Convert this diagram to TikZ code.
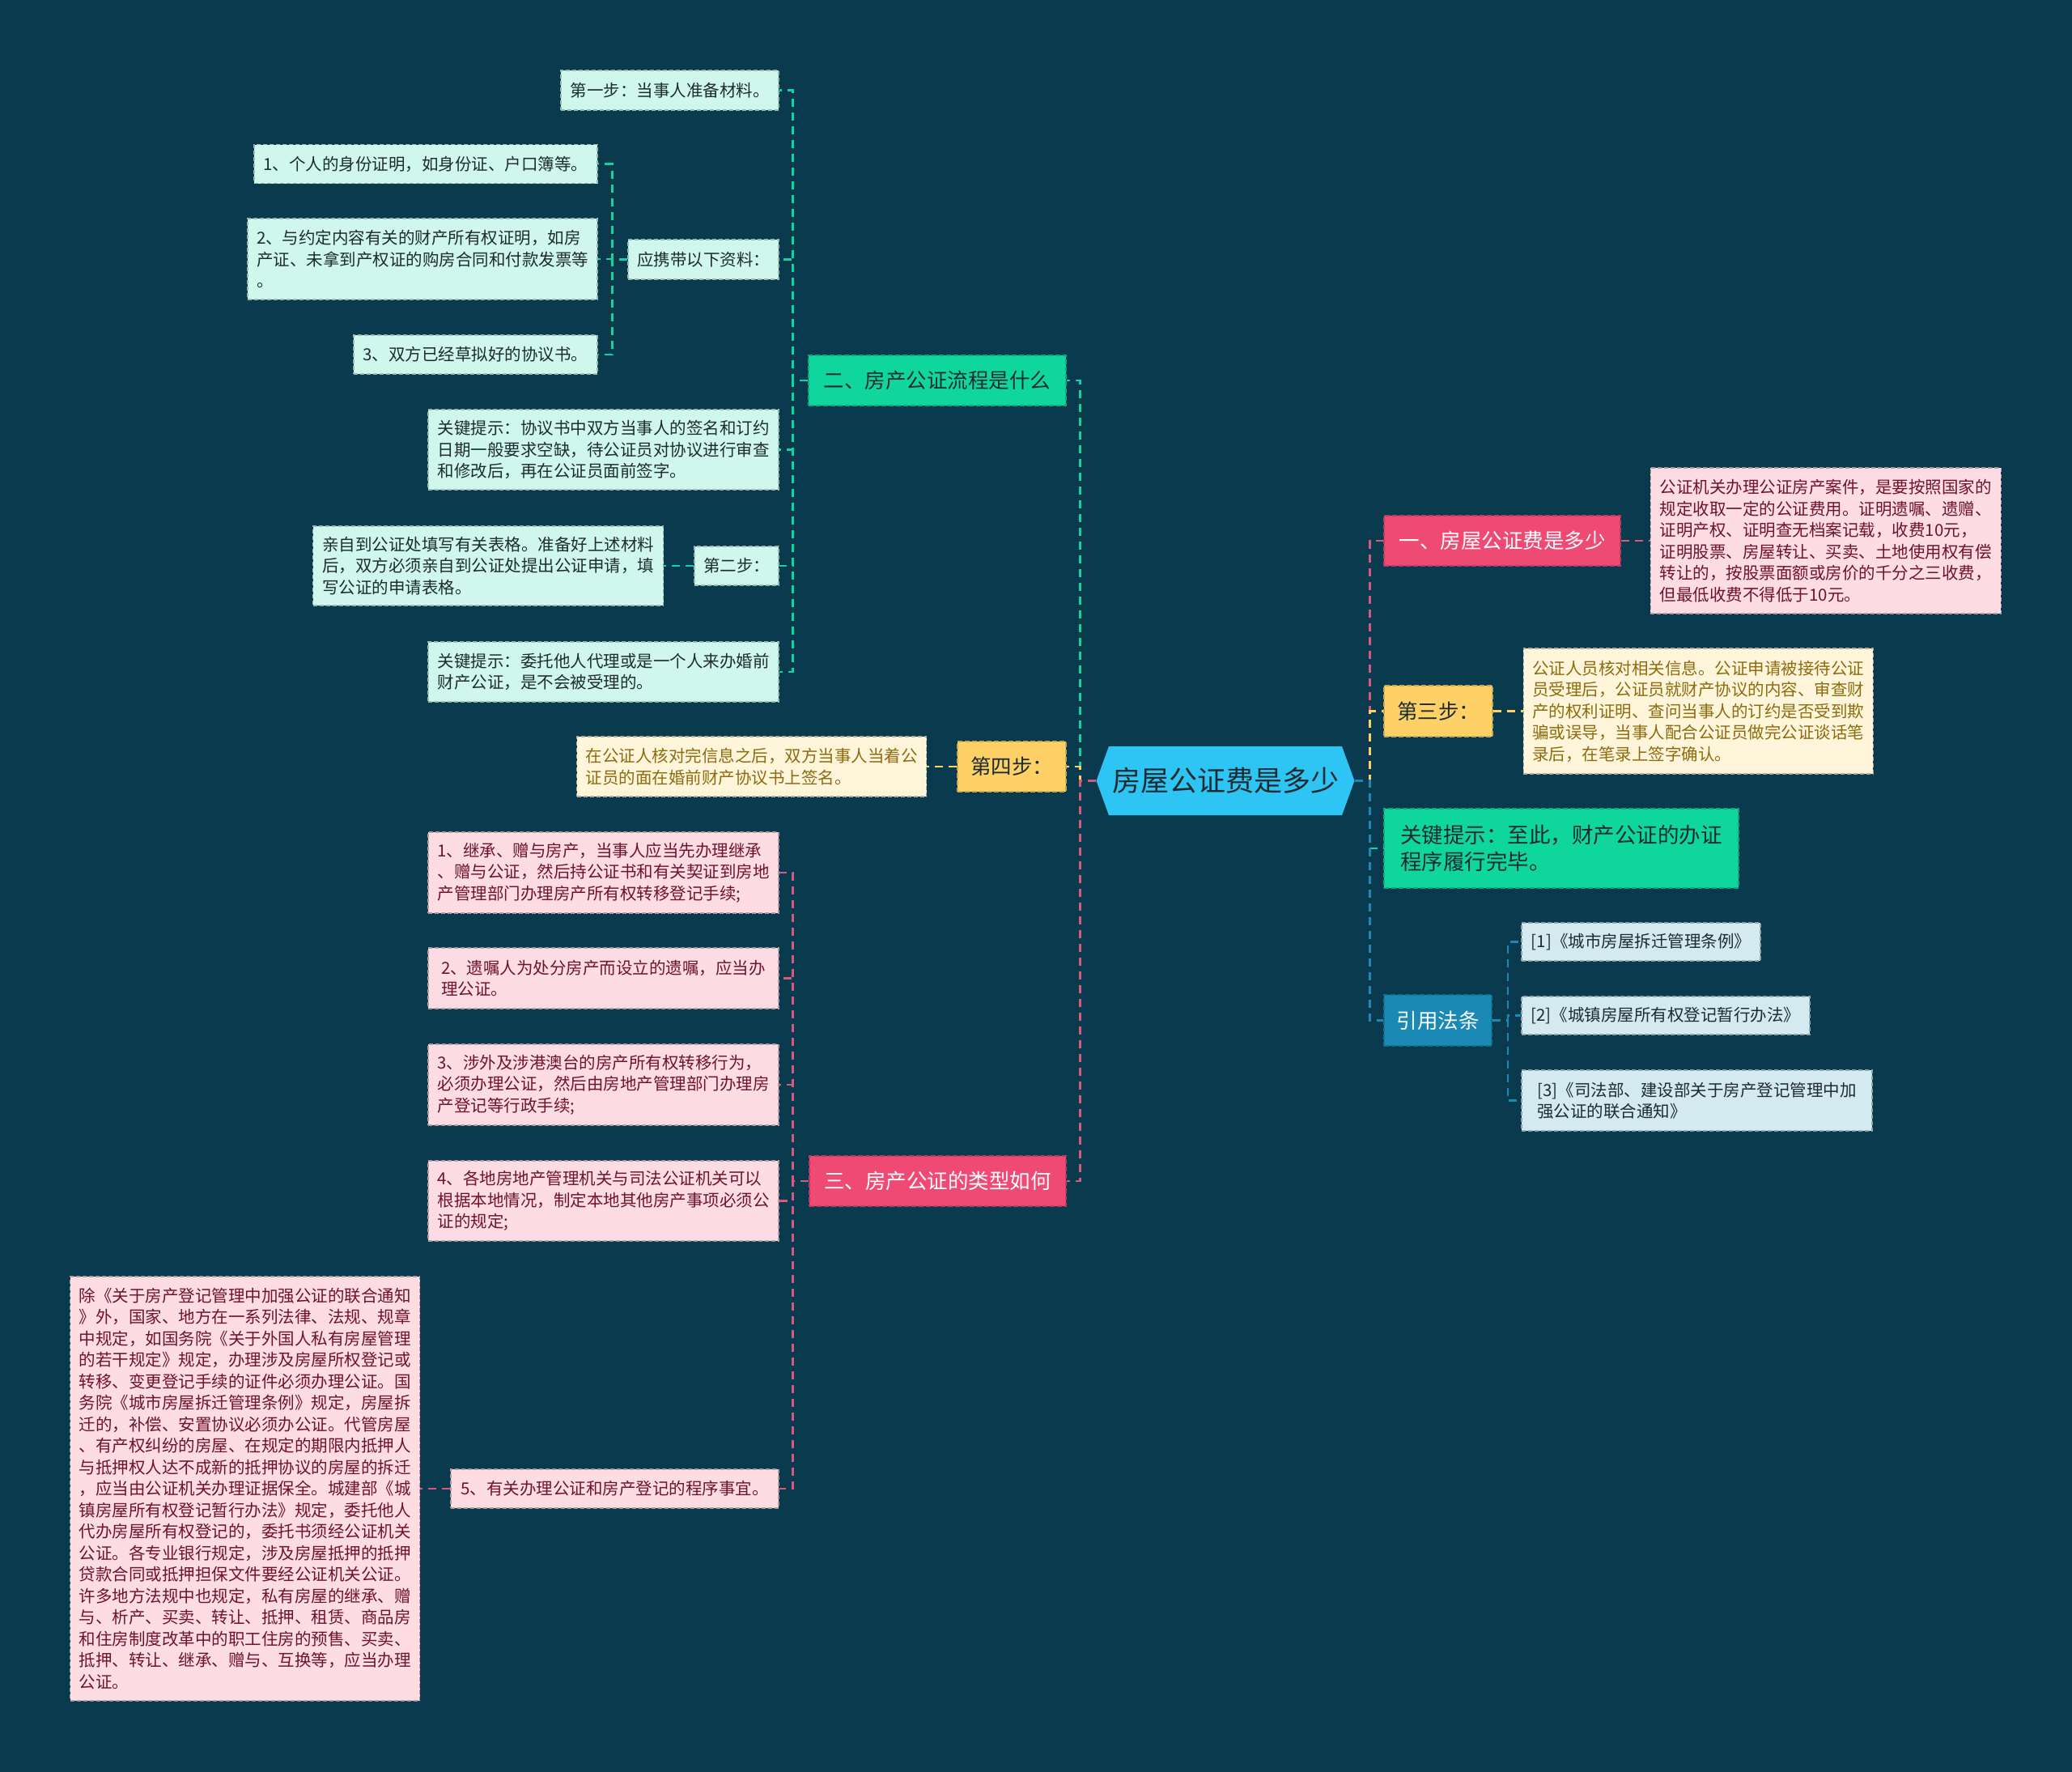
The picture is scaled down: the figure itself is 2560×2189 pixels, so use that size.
\documentclass[tikz,border=0pt]{standalone}
\usepackage{fontspec}
\setmainfont{Noto Sans CJK SC}
\usepackage{tikz}
\usetikzlibrary{positioning,shapes.symbols}

\definecolor{bgcol}{HTML}{093A4D}
\definecolor{rootcol}{HTML}{2EC4F3}
\definecolor{greencol}{HTML}{0FD69E}
\definecolor{redcol}{HTML}{EE4A74}
\definecolor{yellowcol}{HTML}{FED167}
\definecolor{bluecol}{HTML}{1B89B5}
\definecolor{pinkline}{HTML}{D9587E}
\definecolor{mintfill}{HTML}{D0F7EC}
\definecolor{rosefill}{HTML}{FDDDE3}
\definecolor{creamfill}{HTML}{FEF5DB}
\definecolor{skyfill}{HTML}{D3EAF1}
\definecolor{darktext}{HTML}{1E2B30}
\definecolor{rosetext}{HTML}{6F1230}
\definecolor{creamtext}{HTML}{8D6B0E}

\newcommand\leaffont{\fontsize{20.5}{26.5}\selectfont}
\newcommand\branchfont{\fontsize{25.5}{32}\selectfont}
\newcommand\rootfont{\fontsize{35}{40}\selectfont}
\newcommand\tipfont{\fontsize{26.5}{33}\selectfont}

\tikzset{
    box/.style 2 args={minimum width=#1pt, minimum height=#2pt},
    leaf/.style={draw, line width=1.2pt, dash pattern=on 5pt off 3pt, inner xsep=11pt, inner ysep=4pt, align=left, font=\leaffont},
    mint/.style={leaf, fill=mintfill, draw=mintfill!75!black, text=darktext},
    rose/.style={leaf, fill=rosefill, draw=rosefill!70!black, text=rosetext},
    cream/.style={leaf, fill=creamfill, draw=creamfill!70!black, text=creamtext},
    sky/.style={leaf, fill=skyfill, draw=skyfill!70!black, text=darktext},
    branch/.style={draw, line width=1.5pt, dash pattern=on 6pt off 3pt, inner xsep=5pt, align=left, font=\branchfont},
    link/.style={line width=2.5pt, dash pattern=on 10pt off 7pt},
}

\begin{document}
\begin{tikzpicture}[x=1pt, y=-1pt]
    \fill[bgcol] (0,0) rectangle (2560,2189);
    \useasboundingbox (0,0) rectangle (2560,2189);

    % centre
    \node[signal, signal to=west and east, signal pointer angle=140, fill=rootcol, text=darktext,
          minimum width=318pt, minimum height=85pt, inner xsep=4pt, font=\rootfont] (c) at (1514,964.5) {房屋公证费是多少};

    % left branches
    \node[branch, box={318}{62}, fill=greencol, draw=greencol!80!black, text=darktext] (n2) at (1158,470) {二、房产公证流程是什么};
    \node[branch, box={134}{62}, fill=yellowcol, draw=yellowcol!80!black, text=darktext] (step4) at (1250,947) {第四步：};
    \node[branch, box={317}{62}, fill=redcol, draw=redcol!80!black, text=white] (n3) at (1158.5,1459) {三、房产公证的类型如何};

    \node[mint, box={269}{49}] (step1) at (827.5,111.5) {第一步：当事人准备材料。};
    \node[mint, box={186}{49}] (carry) at (869,320.5) {应携带以下资料：};
    \node[mint, box={424}{48}] (m1) at (526,202.5) {1、个人的身份证明，如身份证、户口簿等。};
    \node[mint, box={432}{100}] (m2) at (522,320) {2、与约定内容有关的财产所有权证明，如房\\产证、未拿到产权证的购房合同和付款发票等\\。};
    \node[mint, box={301}{48}] (m3) at (587.5,438) {3、双方已经草拟好的协议书。};
    \node[mint, box={433}{99}] (tip1) at (745.5,555.5) {关键提示：协议书中双方当事人的签名和订约\\日期一般要求空缺，待公证员对协议进行审查\\和修改后，再在公证员面前签字。};
    \node[mint, box={104}{48}] (step2) at (910,699) {第二步：};
    \node[mint, box={433}{98}, left=37pt of step2] (apply) {亲自到公证处填写有关表格。准备好上述材料\\后，双方必须亲自到公证处提出公证申请，填\\写公证的申请表格。};
    \node[mint, box={433}{74}] (tip2) at (745.5,830) {关键提示：委托他人代理或是一个人来办婚前\\财产公证，是不会被受理的。};

    \node[cream, box={432}{74}, left=37pt of step4] (sign) {在公证人核对完信息之后，双方当事人当着公\\证员的面在婚前财产协议书上签名。};

    \node[rose, box={433}{100}] (t1) at (745.5,1078) {1、继承、赠与房产，当事人应当先办理继承\\、赠与公证，然后持公证书和有关契证到房地\\产管理部门办理房产所有权转移登记手续;};
    \node[rose, box={433}{75}] (t2) at (745.5,1208.5) {2、遗嘱人为处分房产而设立的遗嘱，应当办\\理公证。};
    \node[rose, box={433}{100}] (t3) at (745.5,1340) {3、涉外及涉港澳台的房产所有权转移行为，\\必须办理公证，然后由房地产管理部门办理房\\产登记等行政手续;};
    \node[rose, box={433}{99}] (t4) at (745.5,1483.5) {4、各地房地产管理机关与司法公证机关可以\\根据本地情况，制定本地其他房产事项必须公\\证的规定;};
    \node[rose, box={405}{48}] (t5) at (759.5,1839) {5、有关办理公证和房产登记的程序事宜。};
    \node[rose, box={432}{524}, left=37pt of t5] (big) {除《关于房产登记管理中加强公证的联合通知\\》外，国家、地方在一系列法律、法规、规章\\中规定，如国务院《关于外国人私有房屋管理\\的若干规定》规定，办理涉及房屋所权登记或\\转移、变更登记手续的证件必须办理公证。国\\务院《城市房屋拆迁管理条例》规定，房屋拆\\迁的，补偿、安置协议必须办公证。代管房屋\\、有产权纠纷的房屋、在规定的期限内抵押人\\与抵押权人达不成新的抵押协议的房屋的拆迁\\，应当由公证机关办理证据保全。城建部《城\\镇房屋所有权登记暂行办法》规定，委托他人\\代办房屋所有权登记的，委托书须经公证机关\\公证。各专业银行规定，涉及房屋抵押的抵押\\贷款合同或抵押担保文件要经公证机关公证。\\许多地方法规中也规定，私有房屋的继承、赠\\与、析产、买卖、转让、抵押、租赁、商品房\\和住房制度改革中的职工住房的预售、买卖、\\抵押、转让、继承、赠与、互换等，应当办理\\公证。};

    % right branches
    \node[branch, box={292}{62}, fill=redcol, draw=redcol!80!black, text=white] (n1) at (1856,668) {一、房屋公证费是多少};
    \node[branch, box={134}{63}, fill=yellowcol, draw=yellowcol!80!black, text=darktext] (step3) at (1777,878.5) {第三步：};
    \node[branch, box={438}{98}, fill=greencol, draw=greencol!80!black, text=darktext, font=\tipfont, inner xsep=12pt] (tip3) at (1929,1048) {关键提示：至此，财产公证的办证\\程序履行完毕。};
    \node[branch, box={133}{63}, fill=bluecol, draw=bluecol!80!black, text=white] (law) at (1776.5,1260.5) {引用法条};

    \node[rose, box={433}{180}, right=36pt of n1] (fee) {公证机关办理公证房产案件，是要按照国家的\\规定收取一定的公证费用。证明遗嘱、遗赠、\\证明产权、证明查无档案记载，收费10元，\\证明股票、房屋转让、买卖、土地使用权有偿\\转让的，按股票面额或房价的千分之三收费，\\但最低收费不得低于10元。};
    \node[cream, box={432}{155}, right=37pt of step3] (check) {公证人员核对相关信息。公证申请被接待公证\\员受理后，公证员就财产协议的内容、审查财\\产的权利证明、查问当事人的订约是否受到欺\\骗或误导，当事人配合公证员做完公证谈话笔\\录后，在笔录上签字确认。};
    \node[sky, box={295}{47}] (l1) at (2027.5,1163.5) {[1]《城市房屋拆迁管理条例》};
    \node[sky, box={356}{47}] (l2) at (2058,1254.5) {[2]《城镇房屋所有权登记暂行办法》};
    \node[sky, box={433}{75}] (l3) at (2096.5,1359.5) {[3]《司法部、建设部关于房产登记管理中加\\强公证的联合通知》};

    % connectors, left
    \draw[link, draw=greencol] (c.west) -- ++(-20,0) |- (n2.east);
    \draw[link, draw=yellowcol] (c.west) -- ++(-20,0) |- (step4.east);
    \draw[link, draw=pinkline] (c.west) -- ++(-20,0) |- (n3.east);
    \foreach \t in {step1,carry,tip1,step2,tip2}
        \draw[link, draw=greencol] (n2.west) -- ++(-19,0) |- (\t.east);
    \foreach \t in {m1,m2,m3}
        \draw[link, draw=greencol] (carry.west) -- ++(-19,0) |- (\t.east);
    \draw[link, draw=greencol] (step2.west) -- (apply.east);
    \draw[link, draw=yellowcol] (step4.west) -- (sign.east);
    \foreach \t in {t1,t2,t3,t4,t5}
        \draw[link, draw=pinkline] (n3.west) -- ++(-20,0) |- (\t.east);
    \draw[link, draw=pinkline] (t5.west) -- (big.east);

    % connectors, right
    \draw[link, draw=pinkline] (c.east) -- ++(19,0) |- (n1.west);
    \draw[link, draw=yellowcol] (c.east) -- ++(19,0) |- (step3.west);
    \draw[link, draw=greencol] (c.east) -- ++(19,0) |- (tip3.west);
    \draw[link, draw=bluecol] (c.east) -- ++(19,0) |- (law.west);
    \draw[link, draw=pinkline] (n1.east) -- (fee.west);
    \draw[link, draw=yellowcol] (step3.east) -- (check.west);
    \foreach \t in {l1,l2,l3}
        \draw[link, draw=bluecol] (law.east) -- ++(19,0) |- (\t.west);
\end{tikzpicture}
\end{document}
